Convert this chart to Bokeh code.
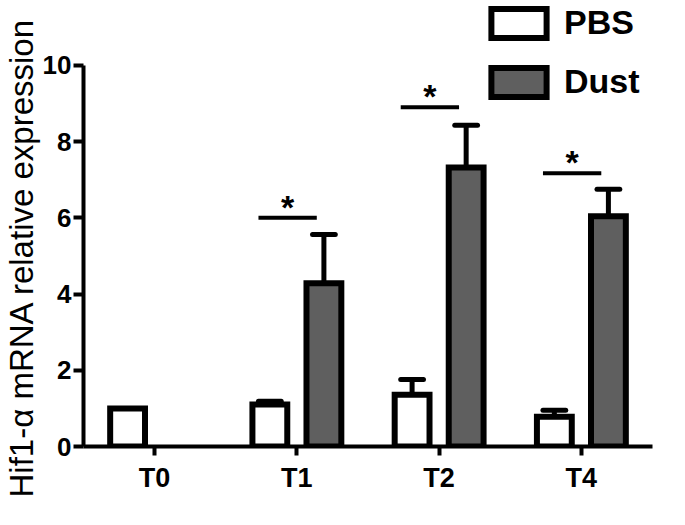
import math
from bokeh.plotting import figure
from bokeh.models import Range1d, FixedTicker, Legend, LegendItem, Title
from bokeh.core.properties import value
from bokeh.embed import file_html
from bokeh.resources import INLINE

# ---- data ----
categories = ["T0", "T1", "T2", "T4"]
pbs_mean = [1.00, 1.10, 1.36, 0.78]
pbs_err = [0.00, 0.09, 0.40, 0.17]
dust_mean = [float("nan"), 4.28, 7.32, 6.04]
dust_err = [float("nan"), 1.28, 1.11, 0.71]
sig_groups = ["T1", "T2", "T4"]
sig_y = [6.00, 8.90, 7.17]
y_ticks = [0, 2, 4, 6, 8, 10]
y_label = "Hif1-α mRNA relative expression"

FONT = "Liberation Sans"
OFF = 0.19
BAR_W = 0.245
CAP = 0.08

pos = {c: i for i, c in enumerate(categories)}

pbs_x = [pos[c] - OFF for c in categories]
dust_rows = [(pos[c] + OFF, m, e) for c, m, e in zip(categories, dust_mean, dust_err) if not math.isnan(m)]
dust_x = [r[0] for r in dust_rows]
dust_m = [r[1] for r in dust_rows]
dust_e = [r[2] for r in dust_rows]

p = figure(width=672, height=503, x_range=Range1d(-0.5, 3.5), y_range=Range1d(0, 11.7),
           output_backend="svg", toolbar_location=None,
           min_border_left=74, min_border_right=20, min_border_top=0, min_border_bottom=57)
p.grid.visible = False
p.outline_line_color = None
p.background_fill_color = "white"

r_pbs = p.vbar(x=pbs_x, top=pbs_mean, width=BAR_W, bottom=0,
               fill_color="white", line_color="black", line_width=6, line_join="miter")
r_dust = p.vbar(x=dust_x, top=dust_m, width=BAR_W, bottom=0,
                fill_color="#5f5f5f", line_color="black", line_width=6, line_join="miter")

# error bars (upper only)
ex, em, ee = [], [], []
for x, m, e in list(zip(pbs_x, pbs_mean, pbs_err)) + list(zip(dust_x, dust_m, dust_e)):
    if e > 0:
        ex.append(x); em.append(m); ee.append(m + e)
p.segment(x0=ex, x1=ex, y0=em, y1=ee, line_color="black", line_width=5)
p.segment(x0=[x - CAP for x in ex], x1=[x + CAP for x in ex], y0=ee, y1=ee,
          line_color="black", line_width=5, line_cap="round")

# significance markers
gx = [pos[g] for g in sig_groups]
p.segment(x0=[g - 0.27 for g in gx], x1=[g + 0.14 for g in gx], y0=sig_y, y1=sig_y,
          line_color="black", line_width=4)
p.text(x=[g - 0.065 for g in gx], y=sig_y, text=["*"] * len(gx),
       text_font=value(FONT), text_font_size=value("34px"), text_font_style="bold",
       text_align="center", text_baseline="alphabetic", y_offset=-11, text_color="black")

# axes
for ax in (p.xaxis[0], p.yaxis[0]):
    ax.axis_line_width = 4
    ax.axis_line_color = "black"
    ax.major_tick_line_width = 4
    ax.major_tick_line_color = "black"
    ax.major_tick_in = 0
    ax.minor_tick_out = 0
    ax.minor_tick_in = 0
    ax.major_label_text_font = FONT
    ax.major_label_text_font_style = "bold"
    ax.major_label_text_color = "black"

p.xaxis.ticker = FixedTicker(ticks=list(range(len(categories))))
p.xaxis.major_label_overrides = {i: c for i, c in enumerate(categories)}
p.xaxis.major_tick_out = 9
p.xaxis.major_label_text_font_size = "27px"
p.xaxis.major_label_standoff = 7

p.yaxis.ticker = FixedTicker(ticks=y_ticks)
p.yaxis.bounds = (0, 10)
p.yaxis.major_tick_out = 10
p.yaxis.major_label_text_font_size = "26px"
p.yaxis.major_label_standoff = 2

# y axis title as a side title so it can be shifted along the axis
p.add_layout(Title(text=y_label, align="left", offset=-51, standoff=0,
                   text_font=FONT, text_font_size="33px", text_font_style="normal",
                   text_color="black"), "left")

legend = Legend(items=[LegendItem(label="PBS", renderers=[r_pbs]),
                       LegendItem(label="Dust", renderers=[r_dust])],
                location=(401, 345), orientation="vertical",
                glyph_width=69, glyph_height=36, label_height=36, spacing=20,
                padding=0, margin=0, border_line_color=None, background_fill_alpha=0,
                label_text_font=FONT, label_text_font_size="34px", label_text_font_style="bold",
                label_text_color="black", label_standoff=11)
p.add_layout(legend)

open("out.html", "w").write(file_html(p, INLINE))
